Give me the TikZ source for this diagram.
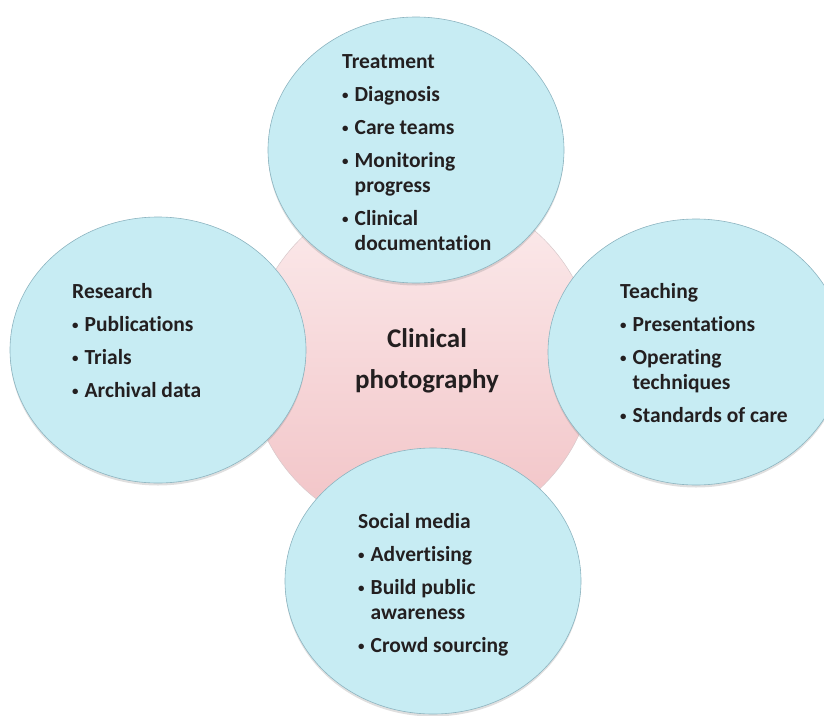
\documentclass[tikz,border=0pt]{standalone}
\usepackage{fontspec}
\setmainfont{Carlito}[Ligatures=NoCommon]
\usepackage{tikz}
\usetikzlibrary{shapes.geometric, shadows}
\definecolor{petal}{RGB}{199, 236, 243}
\definecolor{petalrim}{RGB}{140, 180, 192}
\definecolor{hubtop}{RGB}{252, 236, 237}
\definecolor{hubbot}{RGB}{241, 194, 197}
\definecolor{hubrim}{RGB}{215, 200, 202}
\definecolor{ink}{RGB}{35, 31, 32}

\newcommand{\bul}{\makebox[12.5pt][l]{\raisebox{1.6pt}{\scalebox{0.6}{\textbullet}}}}
\newcommand{\cnt}{\hspace*{12.5pt}}

\begin{document}
\begin{tikzpicture}[x=1pt, y=-1pt,
    petal/.style={ellipse, draw=petalrim, line width=0.6pt, fill=petal, minimum width=296pt, minimum height=266pt, inner sep=0pt, drop shadow={opacity=0.25, shadow xshift=0pt, shadow yshift=-2.5pt}},
    hub/.style={circle, draw=hubrim, line width=0.5pt, top color=hubtop, bottom color=hubbot, minimum size=346pt, inner sep=0pt},
    txt/.style={anchor=north west, inner sep=0pt, align=left, text=ink, font=\fontsize{21.5}{25}\selectfont\bfseries}
  ]

  \useasboundingbox (0,0) rectangle (824,715);
  \clip (0,0) rectangle (824,715);

  % Hub
  \node[hub] (hub) at (422, 362) {};
  \node[anchor=north, inner sep=0pt, align=center, text=ink, font=\fontsize{27}{41}\selectfont\bfseries] (hubtxt) at (427, 328) {Clinical\\photography};

  % Petals
  \node[petal] (treat) at (416, 150) {};
  \node[petal] (research) at (158, 350) {};
  \node[petal] (teach) at (696, 352) {};
  \node[petal] (social) at (433, 581) {};

  % Petal texts
  \node[txt] (treattxt) at (342, 54) {Treatment\\[8pt]
    \bul Diagnosis\\[8pt]
    \bul Care teams\\[8pt]
    \bul Monitoring\\
    \cnt progress\\[8pt]
    \bul Clinical\\
    \cnt documentation};
  \node[txt] (researchtxt) at (72, 283) {Research\\[8pt]
    \bul Publications\\[8pt]
    \bul Trials\\[8pt]
    \bul Archival data};
  \node[txt] (teachtxt) at (620, 283) {Teaching\\[8pt]
    \bul Presentations\\[8pt]
    \bul Operating\\
    \cnt techniques\\[8pt]
    \bul Standards of care};
  \node[txt] (socialtxt) at (358, 513) {Social media\\[8pt]
    \bul Advertising\\[8pt]
    \bul Build public\\
    \cnt awareness\\[8pt]
    \bul Crowd sourcing};

\end{tikzpicture}
\end{document}
